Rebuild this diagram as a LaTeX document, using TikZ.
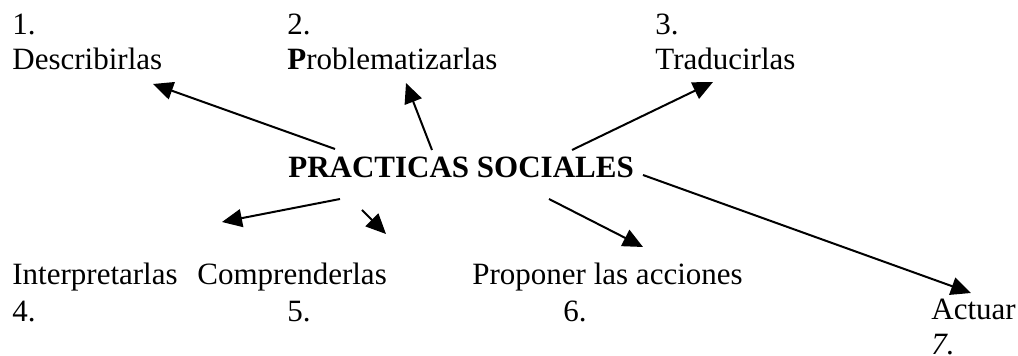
\documentclass[tikz,border=0pt]{standalone}
\usepackage{fontspec}
\setmainfont{Liberation Serif}
\usetikzlibrary{arrows.meta}
\begin{document}
\begin{tikzpicture}[x=0.5pt,y=-0.5pt,
  lbl/.style={anchor=base west,inner sep=0pt,font=\fontsize{15.5}{17.5}\selectfont},
  arr/.style={line width=1pt,-{Triangle[length=10pt,width=9pt]}}]
\useasboundingbox (0,0) rectangle (1018,356);
% top labels
\node[lbl] (n1) at (12,35) {1.};
\node[lbl] (t1) at (12,70) {Describirlas};
\node[lbl] (n2) at (287,35) {2.};
\node[lbl] (t2) at (287,70) {\textbf{P}roblematizarlas};
\node[lbl] (n3) at (655,35) {3.};
\node[lbl] (t3) at (655,70) {Traducirlas};
% center
\node[lbl,font=\fontsize{15.5}{17.5}\selectfont\bfseries] (c) at (288,178) {PRACTICAS SOCIALES};
% bottom labels
\node[lbl] (t4) at (12,285) {Interpretarlas};
\node[lbl] (n4) at (12,322) {4.};
\node[lbl] (t5) at (197,285) {Comprenderlas};
\node[lbl] (n5) at (287,322) {5.};
\node[lbl] (t6) at (472,285) {Proponer las acciones};
\node[lbl] (n6) at (563,322) {6.};
\node[lbl] (t7) at (931,320) {Actuar};
\node[lbl] (n7) at (931,355) {\itshape 7.};
% arrow endpoints
\coordinate (s1) at (335,149);
\coordinate (e1) at (153,84);
\coordinate (s2) at (432,150);
\coordinate (e2) at (406,83);
\coordinate (s3) at (572,150);
\coordinate (e3) at (713,82);
\coordinate (s4) at (340,199);
\coordinate (e4) at (222,222);
\coordinate (s5) at (362,210);
\coordinate (e5) at (386,234);
\coordinate (s6) at (549,199);
\coordinate (e6) at (643,247);
\coordinate (s7) at (643,175);
\coordinate (e7) at (971,293);
\foreach \i in {1,...,7} \draw[arr] (s\i) -- (e\i);
\end{tikzpicture}
\end{document}
